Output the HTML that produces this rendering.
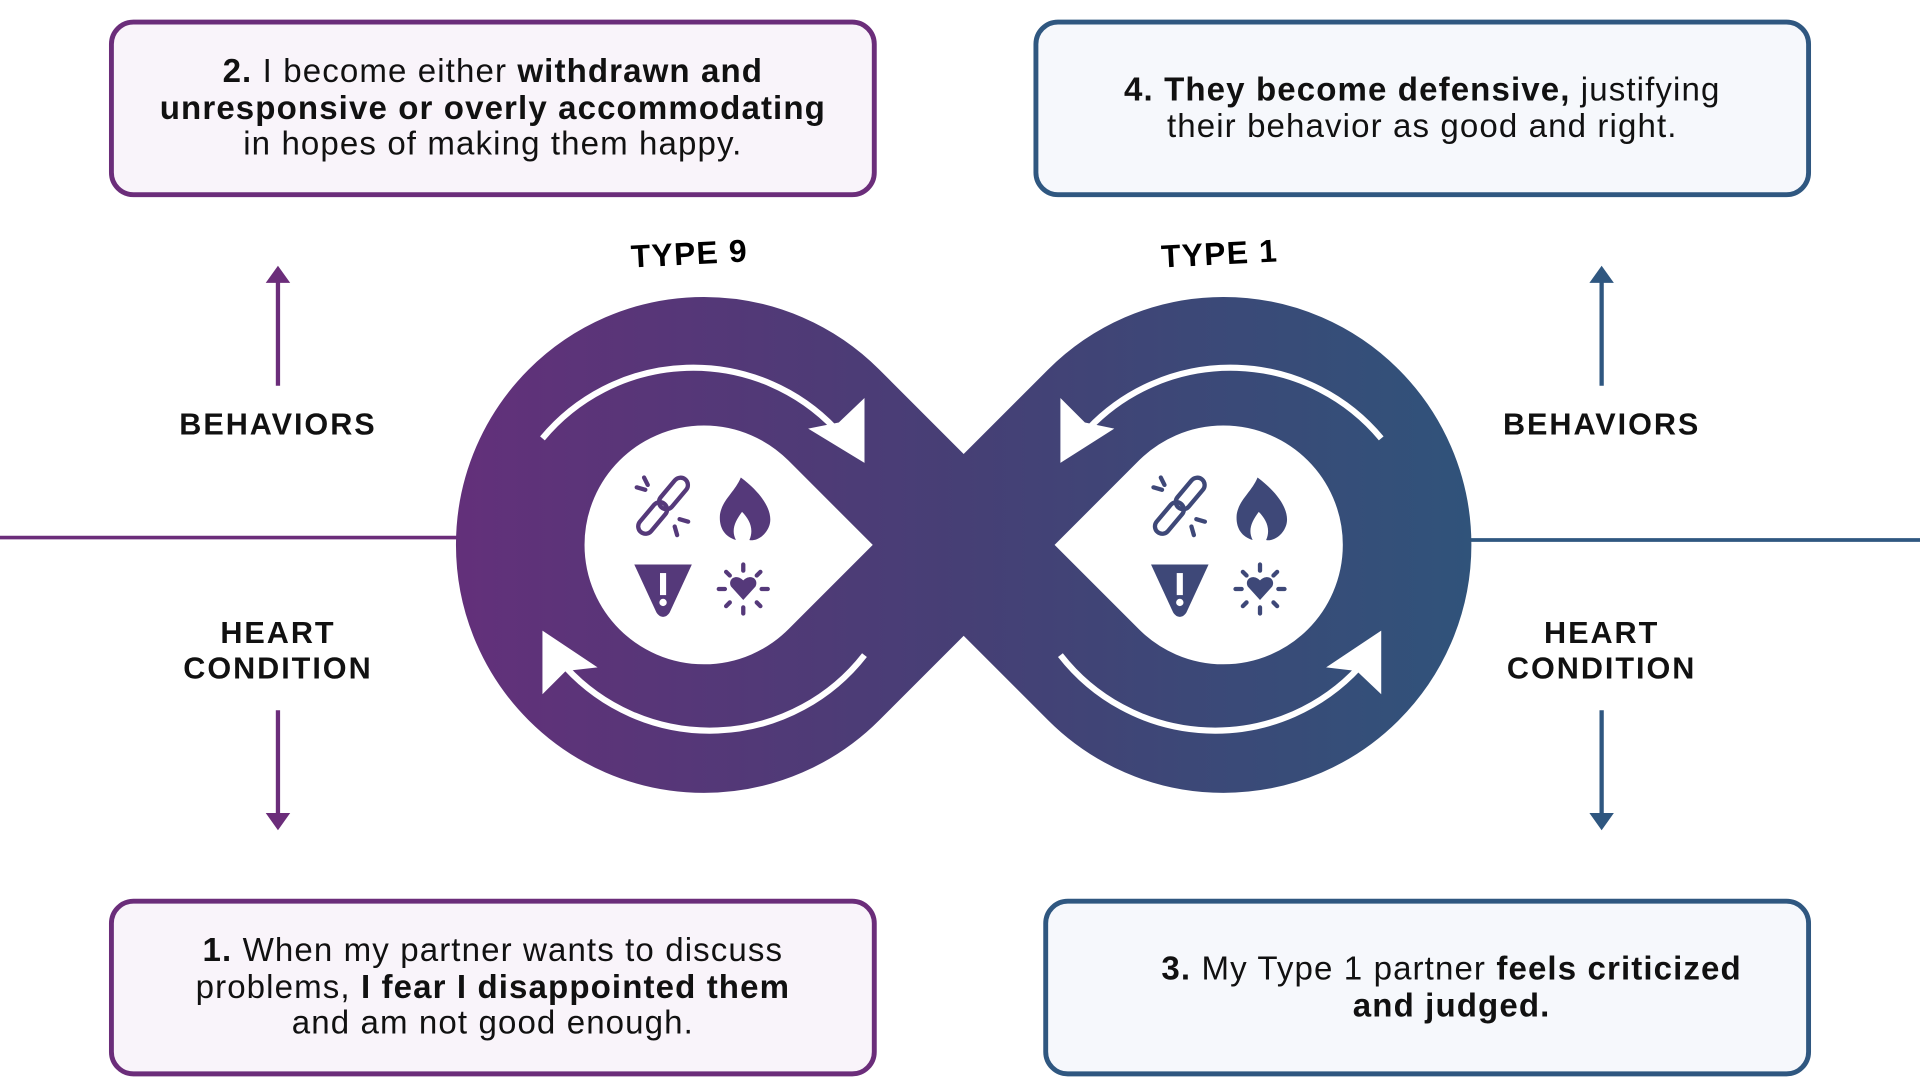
<!DOCTYPE html>
<html><head><meta charset="utf-8"><style>
html,body{margin:0;padding:0;background:#fff;width:1920px;height:1080px;overflow:hidden}
#w{position:absolute;left:0;top:0;width:1568px;height:882px;transform:scale(1.22449);transform-origin:0 0;font-family:"Liberation Sans",sans-serif;color:#111}
.box{position:absolute;box-sizing:border-box;border:4px solid #6b2d7a;border-radius:20px;background:#f9f4fa;display:flex;align-items:center;justify-content:center;text-align:center;font-size:27px;letter-spacing:0.9px;line-height:29.5px;white-space:nowrap}
.blue{border-color:#2f5780;background:#f6f8fc}
.lab{position:absolute;width:260px;text-align:center;font-weight:bold;font-size:25px;line-height:29px;letter-spacing:1.6px}
</style></head><body><div id="w">
<div class="box" style="left:89px;top:16px;width:627px;height:145px"><div><b>2.</b> I become either <b>withdrawn and<br>unresponsive or overly accommodating</b><br>in hopes of making them happy.</div></div>
<div class="box blue" style="left:844px;top:16px;width:635px;height:145px"><div><b>4. They become defensive,</b> justifying<br>their behavior as good and right.</div></div>
<div class="box" style="left:89px;top:734px;width:627px;height:145px"><div><b>1.</b> When my partner wants to discuss<br>problems, <b>I fear I disappointed them</b><br>and am not good enough.</div></div>
<div class="box blue" style="left:852px;top:734px;width:627px;height:145px;padding-left:40px"><div><b>3.</b> My Type 1 partner <b>feels criticized<br>and judged.</b></div></div>
<div class="lab" style="left:97px;top:333px">BEHAVIORS</div>
<div class="lab" style="left:97px;top:503px">HEART<br>CONDITION</div>
<div class="lab" style="left:1178px;top:333px">BEHAVIORS</div>
<div class="lab" style="left:1178px;top:503px">HEART<br>CONDITION</div>
<svg width="1568" height="882" style="position:absolute;left:0;top:0">
<defs><linearGradient id="g" gradientUnits="userSpaceOnUse" x1="370" y1="0" x2="1202" y2="0"><stop offset="0" stop-color="#63307a"/><stop offset="0.5" stop-color="#463f75"/><stop offset="1" stop-color="#30537a"/></linearGradient></defs>
<line x1="0" y1="439" x2="380" y2="439" stroke="#6b2d7a" stroke-width="3"/>
<line x1="1195" y1="441" x2="1568" y2="441" stroke="#2f5780" stroke-width="3"/>
<g stroke-width="3.5"><line x1="227" y1="315" x2="227" y2="228" stroke="#6b2d7a"/><line x1="227" y1="580" x2="227" y2="667" stroke="#6b2d7a"/><line x1="1308" y1="315" x2="1308" y2="228" stroke="#2f5780"/><line x1="1308" y1="580" x2="1308" y2="667" stroke="#2f5780"/></g>
<polygon points="217,231 227,217 237,231" fill="#6b2d7a"/><polygon points="217,664 227,678 237,664" fill="#6b2d7a"/>
<polygon points="1298,231 1308,217 1318,231" fill="#2f5780"/><polygon points="1298,664 1308,678 1318,664" fill="#2f5780"/>
<text x="563" y="216" text-anchor="middle" font-family="Liberation Sans" font-weight="bold" font-size="26" letter-spacing="1" transform="rotate(-3 563 207)">TYPE 9</text>
<text x="996" y="216" text-anchor="middle" font-family="Liberation Sans" font-weight="bold" font-size="26" letter-spacing="1" transform="rotate(-3 996 207)">TYPE 1</text>
<path d="M787 445 L681 339 A150 150 0 1 0 681 551 L893 339 A150 150 0 1 1 893 551 Z" fill="none" stroke="url(#g)" stroke-width="105" stroke-linejoin="miter" stroke-miterlimit="10"/>
<g fill="none" stroke="#fff" stroke-width="5">
<path d="M443 358 A160 160 0 0 1 682 350"/>
<path d="M706 535 A160 160 0 0 1 462 545"/>
<path d="M1128 358 A160 160 0 0 0 889 350"/>
<path d="M866 535 A160 160 0 0 0 1110 545"/>
</g>
<g fill="#fff">
<polygon points="706,325 706,378 660,350 685,345"/>
<polygon points="443,567 443,515 488,545 462,548"/>
<polygon points="866,325 866,378 910,350 886,345"/>
<polygon points="1128,567 1128,515 1083,545 1108,548"/>
</g>
<g fill="#55397a">
<g fill="none" stroke="#55397a" stroke-width="3.5" stroke-linecap="round">
<rect x="544" y="388" width="12" height="30" rx="6" transform="rotate(40 550 403)"/>
<rect x="527" y="408" width="12" height="30" rx="6" transform="rotate(40 533 423)"/>
<line x1="520" y1="398" x2="527" y2="400"/><line x1="526" y1="390" x2="529" y2="396"/>
<line x1="555" y1="424" x2="562" y2="426"/><line x1="551" y1="430" x2="553" y2="437"/>
</g>
<path d="M605 390 C625 405 632 420 628 430 C624 440 615 442 612 441 C616 432 612 424 606 418 C600 426 597 433 601 441 C591 438 587 430 588 420 C590 408 600 402 605 390 Z"/>
<path d="M518 461 L565 461 L547 500 C544 505 539 505 536 500 Z"/>
<rect x="539" y="468" width="5" height="18" fill="#fff"/><circle cx="541.5" cy="492" r="3" fill="#fff"/>
<path d="M607 490 L597 479 C594 473 601 468 607 474 C613 468 620 473 617 479 Z"/>
<g stroke="#55397a" stroke-width="3.5" stroke-linecap="round"><line x1="607" y1="461" x2="607" y2="466"/><line x1="607" y1="496" x2="607" y2="501"/><line x1="587" y1="481" x2="592" y2="481"/><line x1="622" y1="481" x2="627" y2="481"/><line x1="593" y1="467" x2="596" y2="470"/><line x1="621" y1="467" x2="618" y2="470"/><line x1="593" y1="495" x2="596" y2="492"/><line x1="621" y1="495" x2="618" y2="492"/></g>
</g>
<g transform="translate(422 0)"><g fill="#3e4878">
<g fill="none" stroke="#3e4878" stroke-width="3.5" stroke-linecap="round">
<rect x="544" y="388" width="12" height="30" rx="6" transform="rotate(40 550 403)"/>
<rect x="527" y="408" width="12" height="30" rx="6" transform="rotate(40 533 423)"/>
<line x1="520" y1="398" x2="527" y2="400"/><line x1="526" y1="390" x2="529" y2="396"/>
<line x1="555" y1="424" x2="562" y2="426"/><line x1="551" y1="430" x2="553" y2="437"/>
</g>
<path d="M605 390 C625 405 632 420 628 430 C624 440 615 442 612 441 C616 432 612 424 606 418 C600 426 597 433 601 441 C591 438 587 430 588 420 C590 408 600 402 605 390 Z"/>
<path d="M518 461 L565 461 L547 500 C544 505 539 505 536 500 Z"/>
<rect x="539" y="468" width="5" height="18" fill="#fff"/><circle cx="541.5" cy="492" r="3" fill="#fff"/>
<path d="M607 490 L597 479 C594 473 601 468 607 474 C613 468 620 473 617 479 Z"/>
<g stroke="#3e4878" stroke-width="3.5" stroke-linecap="round"><line x1="607" y1="461" x2="607" y2="466"/><line x1="607" y1="496" x2="607" y2="501"/><line x1="587" y1="481" x2="592" y2="481"/><line x1="622" y1="481" x2="627" y2="481"/><line x1="593" y1="467" x2="596" y2="470"/><line x1="621" y1="467" x2="618" y2="470"/><line x1="593" y1="495" x2="596" y2="492"/><line x1="621" y1="495" x2="618" y2="492"/></g>
</g></g>
</svg>
</div></body></html>
